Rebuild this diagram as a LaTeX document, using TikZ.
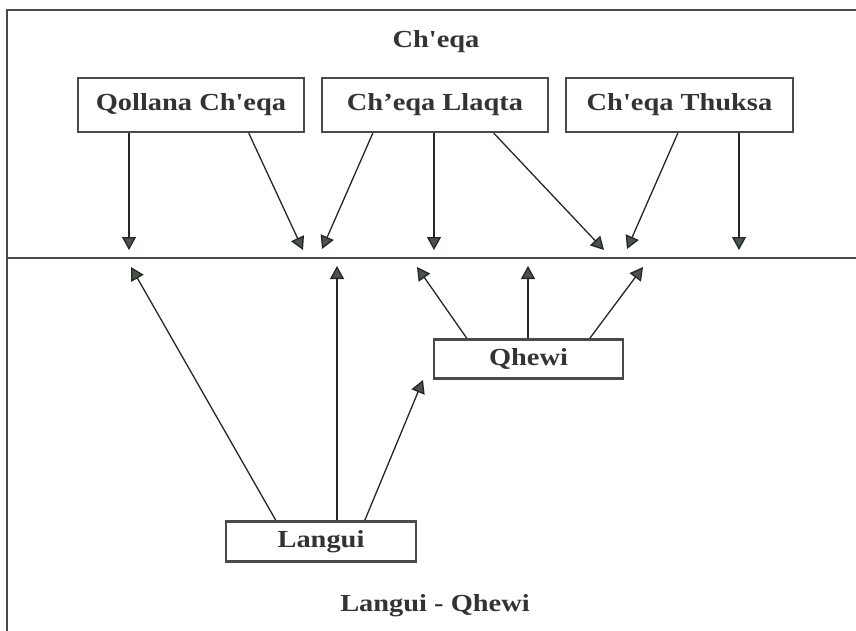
\documentclass[tikz,border=0pt]{standalone}
\usepackage{fontspec}
\setmainfont{Liberation Serif}[Ligatures=TeXOff, FakeStretch=1.16]
\usetikzlibrary{arrows.meta}
\definecolor{framegray}{HTML}{4A4A4A}
\definecolor{tipgray}{HTML}{4B524B}
\tikzset{
  x=1pt, y=-1pt,
  frameline/.style={draw=framegray, line width=2.6pt},
  labelbox/.style={draw=framegray, line width=2.4pt, fill=white, inner sep=0pt,
    font=\fontsize{24.5}{28}\selectfont\bfseries, text=black!80},
  titletext/.style={font=\fontsize{24.5}{28}\selectfont\bfseries, text=black!80},
  conn/.style={draw=black!85, line width=1.3pt,
    -{Triangle[width=14pt,length=13pt,fill=tipgray]}}
}
\begin{document}
\begin{tikzpicture}
\useasboundingbox (0,0) rectangle (856,631);
% frame
\draw[frameline] (7,631) -- (7,10) -- (856,10);
\draw[frameline] (7,258) -- (856,258);
% titles
\node[titletext] (top) at (436,42) {Ch'eqa};
\node[titletext] (bottom) at (435,606) {Langui - Qhewi};
% boxes
\node[labelbox, minimum width=226pt, minimum height=54pt] (b1) at (191,105) {Qollana Ch'eqa};
\node[labelbox, minimum width=226pt, minimum height=54pt] (b2) at (435,105) {Ch’eqa Llaqta};
\node[labelbox, minimum width=227pt, minimum height=54pt] (b3) at (679.5,105) {Ch'eqa Thuksa};
\node[labelbox, minimum width=189pt, minimum height=39pt] (qh) at (528.5,359) {Qhewi};
\node[labelbox, minimum width=190pt, minimum height=40pt] (la) at (321,541.5) {Langui};
% arrow tips (free ends)
\coordinate (t1) at (129,250);
\coordinate (t2) at (303,250);
\coordinate (t3) at (322,249);
\coordinate (t4) at (434,250);
\coordinate (t5) at (604,250);
\coordinate (t6) at (627,249);
\coordinate (t7) at (739,250);
\coordinate (u1) at (131,267);
\coordinate (u2) at (337,266);
\coordinate (u3) at (423,380);
\coordinate (v1) at (417,267);
\coordinate (v2) at (528,266);
\coordinate (v3) at (643,267);
% top arrows
\draw[conn] (b1.south -| t1) -- (t1);
\draw[conn] ([xshift=172pt]b1.south west) -- (t2);
\draw[conn] ([xshift=52pt]b2.south west) -- (t3);
\draw[conn] (b2.south -| t4) -- (t4);
\draw[conn] ([xshift=173pt]b2.south west) -- (t5);
\draw[conn] ([xshift=113pt]b3.south west) -- (t6);
\draw[conn] (b3.south -| t7) -- (t7);
% bottom arrows
\draw[conn] ([xshift=51pt]la.north west) -- (u1);
\draw[conn] (la.north -| u2) -- (u2);
\draw[conn] ([xshift=140pt]la.north west) -- (u3);
\draw[conn] ([xshift=34pt]qh.north west) -- (v1);
\draw[conn] (qh.north -| v2) -- (v2);
\draw[conn] ([xshift=157pt]qh.north west) -- (v3);
\end{tikzpicture}
\end{document}
